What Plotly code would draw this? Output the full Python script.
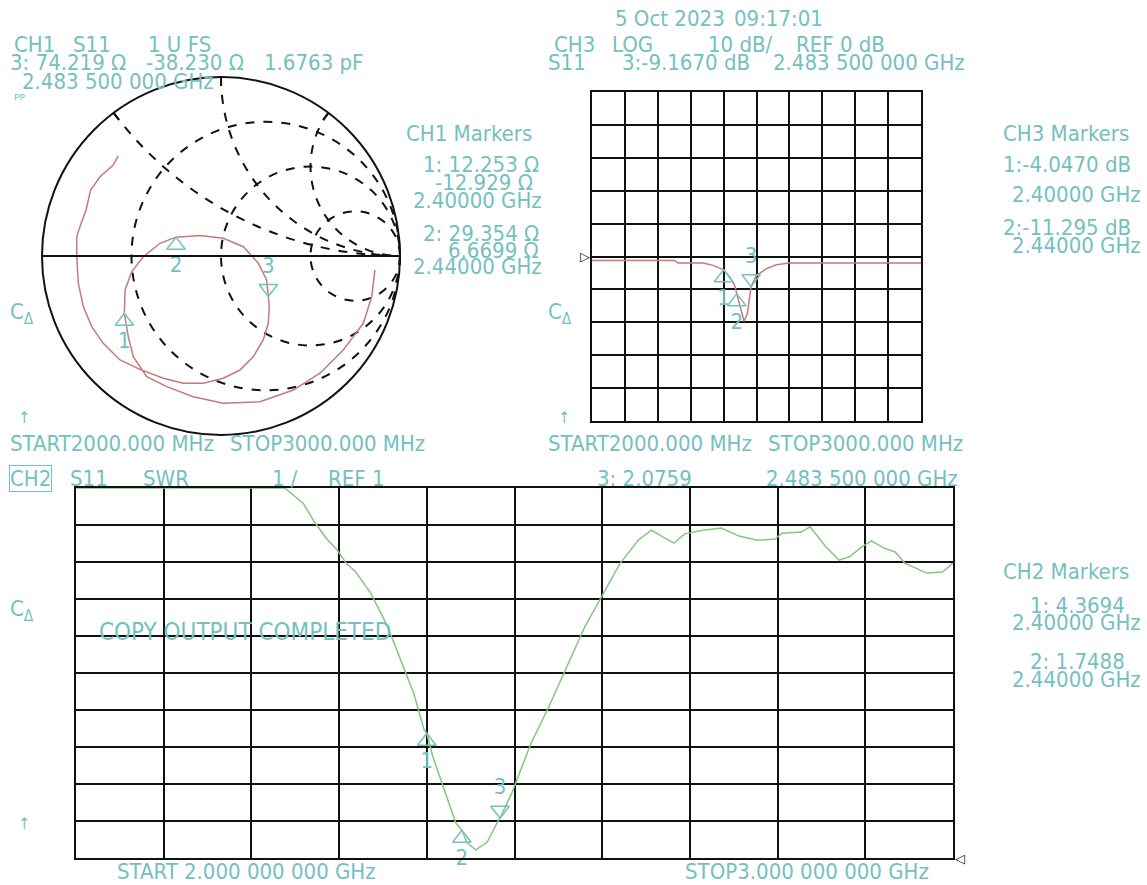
import numpy as np
import plotly.graph_objects as go

W, H = 1147, 885
FONT = "Liberation Sans Narrow, Arial Narrow, DejaVu Sans Condensed, sans-serif"
FS = 22
TEAL = "#74c0c0"
RED = "#c47a7a"
GREEN = "#86c67e"
INK = "#111111"
Z0 = 50.0

# ---------------- CH1: S11 on the Smith chart (reflection coefficient) ----------------
sm_freq = [2000, 2030, 2065, 2100, 2135, 2170, 2210, 2255, 2300, 2320, 2335, 2360, 2386,
           2408, 2413, 2420, 2430, 2447, 2456, 2464, 2472, 2479, 2488, 2495, 2505, 2513,
           2525, 2538, 2557, 2570, 2578, 2590, 2605, 2630, 2660, 2690, 2720, 2760, 2800,
           2840, 2880, 2920, 2950, 2975, 3000]
sm_gamma_re = [0.860, 0.842, 0.795, 0.683, 0.553, 0.404, 0.218, 0.013, -0.155, -0.303, -0.415,
               -0.490, -0.518, -0.536, -0.499, -0.434, -0.341, -0.117, 0.013, 0.125, 0.209,
               0.255, 0.270, 0.264, 0.236, 0.181, 0.106, 0.013, -0.099, -0.211, -0.322, -0.450,
               -0.564, -0.658, -0.722, -0.769, -0.797, -0.806, -0.806, -0.788, -0.754, -0.728,
               -0.676, -0.602, -0.574]
sm_gamma_im = [-0.078, -0.227, -0.376, -0.525, -0.655, -0.749, -0.814, -0.823, -0.786, -0.730,
               -0.674, -0.562, -0.451, -0.190, -0.088, -0.004, 0.071, 0.114, 0.099, 0.052,
               -0.041, -0.134, -0.283, -0.376, -0.469, -0.562, -0.637, -0.683, -0.711, -0.711,
               -0.683, -0.635, -0.581, -0.488, -0.395, -0.283, -0.153, -0.004, 0.108, 0.164,
               0.257, 0.369, 0.443, 0.508, 0.559]
ch1_mk_freq = [2400.0, 2440.0, 2483.5]
ch1_mk_r = [12.253, 29.354, 74.219]      # ohms
ch1_mk_x = [-12.929, 6.6699, -38.230]    # ohms

# ---------------- CH3: S11 log magnitude ----------------
lm_freq = [2000, 2251, 2262, 2338, 2368, 2388, 2419, 2434, 2454, 2462, 2472, 2478,
           2500, 2530, 2561, 2601, 3000]
lm_db = [-1.2, -1.2, -2.0, -2.0, -2.7, -3.7, -6.3, -8.8, -16.4, -19.7, -17.4, -13.4,
         -5.8, -3.7, -2.5, -2.0, -2.0]
ch3_mk_freq = [2400.0, 2440.0, 2483.5]
ch3_mk_db = [-4.0470, -11.295, -9.1670]

# ---------------- CH2: S11 SWR (display tops out at 11) ----------------
swr_freq = [2000, 2080, 2160, 2238, 2259, 2272, 2285, 2298, 2308, 2319, 2336, 2350, 2360,
            2373, 2385, 2397, 2407, 2420, 2433, 2446, 2456, 2469, 2480, 2497, 2519, 2539,
            2558, 2580, 2599, 2620, 2641, 2656, 2669, 2682, 2694, 2715, 2736, 2756, 2777,
            2797, 2805, 2827, 2837, 2855, 2870, 2882, 2896, 2907, 2921, 2934, 2945, 2970,
            2988, 3000]
swr_val = [11.0, 11.0, 11.0, 11.0, 10.59, 10.08, 9.65, 9.32, 8.97, 8.73, 8.16, 7.51, 6.97,
           6.16, 5.46, 4.46, 3.73, 2.84, 1.95, 1.41, 1.22, 1.43, 1.95, 2.76, 4.11, 5.08,
           6.08, 7.24, 8.05, 8.95, 9.59, 9.86, 9.68, 9.51, 9.76, 9.86, 9.92, 9.70, 9.59,
           9.62, 9.78, 9.81, 9.95, 9.41, 9.05, 9.14, 9.41, 9.57, 9.38, 9.27, 8.97, 8.70,
           8.73, 8.97]
ch2_mk_freq = [2400.0, 2440.0, 2483.5]
ch2_mk_swr = [4.3694, 1.7488, 2.0759]

mk_names = ["1", "2", "3"]


def with_markers(f, v, mf, mv):
    """Insert marker readings into a sweep so the trace passes through them."""
    f = np.concatenate([np.asarray(f, float), np.asarray(mf, float)])
    v = np.concatenate([np.asarray(v), np.asarray(mv)])
    order = np.argsort(f, kind="stable")
    return f[order], v[order]


def to_gamma(z):
    return (z - 1) / (z + 1)


def to_z(g):
    return (1 + g) / (1 - g)


# Smith trace (normalised impedance)
mk_z = (np.array(ch1_mk_r) + 1j * np.array(ch1_mk_x)) / Z0
sm_g = np.array(sm_gamma_re) + 1j * np.array(sm_gamma_im)
_, g_all = with_markers(sm_freq, sm_g, ch1_mk_freq, to_gamma(mk_z))
z_all = to_z(g_all)

lm_f, lm_v = with_markers(lm_freq, lm_db, ch3_mk_freq, ch3_mk_db)
sw_f, sw_v = with_markers(swr_freq, swr_val, ch2_mk_freq, ch2_mk_swr)

MK_SIZE = 16
mk_angle = [0, 0, 180]
lbl_pos = ["bottom center", "bottom center", "top center"]
mk_style = dict(symbol="triangle-up-open", size=MK_SIZE, angle=mk_angle,
                standoff=MK_SIZE / 2, color=TEAL, line=dict(color=TEAL, width=1.5))
lbl_font = dict(family=FONT, size=22, color=TEAL)

fig = go.Figure()

# ----- Smith chart -----
fig.add_trace(go.Scattersmith(real=z_all.real, imag=z_all.imag, mode="lines",
                              line=dict(color=RED, width=1.5), subplot="smith",
                              hoverinfo="skip", showlegend=False))
fig.add_trace(go.Scattersmith(real=mk_z.real, imag=mk_z.imag, mode="markers", marker=mk_style,
                              subplot="smith", showlegend=False, hoverinfo="skip"))
fig.add_trace(go.Scattersmith(real=mk_z.real, imag=mk_z.imag, mode="markers+text",
                              text=mk_names, textposition=lbl_pos, textfont=lbl_font,
                              marker=dict(size=28, opacity=0),
                              subplot="smith", showlegend=False, hoverinfo="skip"))

# ----- CH3 log magnitude -----
fig.add_trace(go.Scatter(x=lm_f, y=lm_v, mode="lines", line=dict(color=RED, width=1.5),
                         xaxis="x2", yaxis="y2", showlegend=False, hoverinfo="skip"))
fig.add_trace(go.Scatter(x=ch3_mk_freq, y=ch3_mk_db, mode="markers", marker=mk_style,
                         xaxis="x2", yaxis="y2", showlegend=False, hoverinfo="skip"))
fig.add_trace(go.Scatter(x=ch3_mk_freq, y=ch3_mk_db, mode="markers+text", text=mk_names,
                         textposition=lbl_pos, textfont=lbl_font,
                         marker=dict(size=28, opacity=0), cliponaxis=False,
                         xaxis="x2", yaxis="y2", showlegend=False, hoverinfo="skip"))

# ----- CH2 SWR -----
fig.add_trace(go.Scatter(x=sw_f, y=sw_v, mode="lines", line=dict(color=GREEN, width=1.5),
                         cliponaxis=False,
                         xaxis="x3", yaxis="y3", showlegend=False, hoverinfo="skip"))
fig.add_trace(go.Scatter(x=ch2_mk_freq, y=ch2_mk_swr, mode="markers", marker=mk_style,
                         xaxis="x3", yaxis="y3", showlegend=False, hoverinfo="skip"))
fig.add_trace(go.Scatter(x=ch2_mk_freq, y=ch2_mk_swr, mode="markers+text", text=mk_names,
                         textposition=lbl_pos, textfont=lbl_font,
                         marker=dict(size=28, opacity=0), cliponaxis=False,
                         xaxis="x3", yaxis="y3", showlegend=False, hoverinfo="skip"))


def dom_x(a, b):
    return [a / W, b / W]


def dom_y(top, bottom):
    return [1 - bottom / H, 1 - top / H]


grid_axis = dict(showgrid=True, gridcolor=INK, gridwidth=2, showline=True, linecolor=INK,
                 linewidth=2, mirror=True, zeroline=False, showticklabels=False, ticks="",
                 fixedrange=True)

annotations = []


def label(x, y, s, size=FS, color=TEAL, **kw):
    annotations.append(dict(x=x / W, y=1 - y / H, xref="paper", yref="paper", text=s,
                            showarrow=False, xanchor="left", yanchor="middle",
                            font=dict(family=FONT, size=size, color=color), **kw))


# header and status texts
label(613, 18, "5 Oct 2023")
label(732, 18, "09:17:01")
label(12, 45, "CH1")
label(71, 45, "S11")
label(146, 45, "1 U FS")
label(8, 63, "3: 74.219 Ω")
label(144, 63, "-38.230 Ω")
label(262, 63, "1.6763 pF")
label(20, 82, "2.483 500 000 GHz")

label(552, 45, "CH3")
label(610, 45, "LOG")
label(706, 45, "10 dB/")
label(794, 45, "REF 0 dB")
label(546, 63, "S11")
label(620, 63, "3:-9.1670 dB")
label(771, 63, "2.483 500 000 GHz")

label(404, 133, "CH1 Markers")
label(421, 165, "1: 12.253 Ω")
label(433, 183, "-12.929 Ω")
label(411, 200, "2.40000 GHz")
label(421, 233, "2: 29.354 Ω")
label(446, 250, "6.6699 Ω")
label(411, 266, "2.44000 GHz")

label(1001, 134, "CH3 Markers")
label(1001, 165, "1:-4.0470 dB")
label(1010, 194, "2.40000 GHz")
label(1001, 228, "2:-11.295 dB")
label(1010, 245, "2.44000 GHz")

label(1001, 571, "CH2 Markers")
label(1028, 605, "1: 4.3694")
label(1010, 622, "2.40000 GHz")
label(1028, 661, "2: 1.7488")
label(1010, 679, "2.44000 GHz")

label(8, 443, "START2000.000 MHz")
label(228, 443, "STOP3000.000 MHz")
label(546, 443, "START2000.000 MHz")
label(766, 443, "STOP3000.000 MHz")

label(9, 478, "CH2", bordercolor=TEAL, borderwidth=1, borderpad=0)
label(68, 478, "S11")
label(141, 478, "SWR")
label(270, 478, "1 /")
label(326, 478, "REF 1")
label(595, 478, "3: 2.0759")
label(764, 478, "2.483 500 000 GHz")

label(97, 632, "COPY OUTPUT COMPLETED", size=24)
label(115, 871, "START 2.000 000 000 GHz")
label(683, 871, "STOP3.000 000 000 GHz")

# small status glyphs
label(8, 313, "C<sub>Δ</sub>", size=22)
label(546, 313, "C<sub>Δ</sub>", size=22)
label(8, 610, "C<sub>Δ</sub>", size=22)
label(12, 100, "ᴾᴾ", size=16)
label(16, 418, "↑", size=16)
label(556, 418, "↑", size=16)
label(16, 823, "↑", size=16)

# reference level pointers
annotations.append(dict(x=592 / W, y=0, xref="paper", yref="y2", text="▷", showarrow=False,
                        xanchor="right", yanchor="middle",
                        font=dict(family="DejaVu Sans", size=13, color=INK)))
annotations.append(dict(x=953 / W, y=1, xref="paper", yref="y3", text="◁", showarrow=False,
                        xanchor="left", yanchor="middle",
                        font=dict(family="DejaVu Sans", size=13, color=INK)))

fig.update_layout(
    width=W, height=H, autosize=False,
    margin=dict(l=0, r=0, t=0, b=0, pad=0),
    paper_bgcolor="white", plot_bgcolor="white",
    showlegend=False,
    smith=dict(
        domain=dict(x=dom_x(42, 400), y=dom_y(77, 435)),
        bgcolor="white",
        realaxis=dict(tickvals=[1 / 3, 1, 3], showticklabels=False, showgrid=True,
                      gridcolor=INK, griddash="dash", gridwidth=2,
                      showline=True, linecolor=INK, linewidth=2, ticks=""),
        imaginaryaxis=dict(tickvals=[0.5, 1, 2], showticklabels=False, showgrid=True,
                           gridcolor=INK, griddash="dash", gridwidth=2,
                           showline=True, linecolor=INK, linewidth=2,
                           ticks="inside", ticklen=8, tickcolor=INK, tickwidth=2),
    ),
    xaxis2=dict(domain=dom_x(592, 921), range=[2000, 3000], tick0=2000, dtick=100,
                anchor="y2", **grid_axis),
    yaxis2=dict(domain=dom_y(92, 421), range=[-50, 50], tick0=-50, dtick=10,
                anchor="x2", **grid_axis),
    xaxis3=dict(domain=dom_x(76, 953), range=[2000, 3000], tick0=2000, dtick=100,
                anchor="y3", **grid_axis),
    yaxis3=dict(domain=dom_y(488, 858), range=[1, 11], tick0=1, dtick=1,
                anchor="x3", **grid_axis),
    annotations=annotations,
)

fig.write_html("out.html")
